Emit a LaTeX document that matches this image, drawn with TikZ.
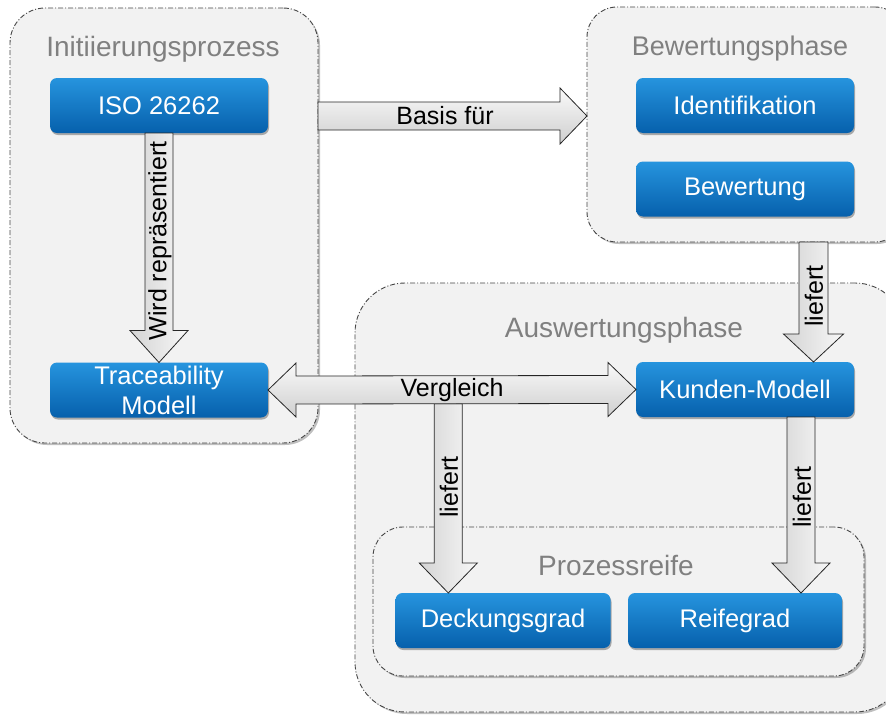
\documentclass[tikz,border=0pt]{standalone}
\usepackage{fontspec}
\setmainfont{Liberation Sans}
\usetikzlibrary{calc,shadows}
\definecolor{bluetop}{RGB}{38,148,222}
\definecolor{bluebot}{RGB}{6,96,172}
\definecolor{contfill}{RGB}{242,242,242}
\definecolor{contline}{RGB}{70,70,70}
\definecolor{titlegray}{RGB}{128,128,128}
\tikzset{
  container/.style={draw=contline, line width=0.9pt, fill=contfill,
    dash pattern=on 5pt off 2pt on 1pt off 2pt, outer sep=0pt, inner sep=0pt,
    drop shadow={shadow xshift=2pt, shadow yshift=-2pt, opacity=0.25, fill=black}},
  title/.style={text=titlegray, font=\fontsize{28}{30}\selectfont, anchor=base, inner sep=0pt},
  bluebox/.style={rounded corners=7pt, top color=bluetop, bottom color=bluebot, draw=none,
    text=white, font=\fontsize{25.5}{30}\selectfont, align=center, outer sep=0pt,
    minimum width=218pt, minimum height=55pt, inner sep=0pt,
    drop shadow={shadow xshift=1pt, shadow yshift=-2pt, opacity=0.3, fill=black}},
  fatarrow/.style={draw=black!85, line width=0.8pt, line join=miter},
  harrow/.style={fatarrow, top color=gray!4, bottom color=gray!38},
  varrow/.style={fatarrow, left color=gray!34, right color=gray!6},
  alabel/.style={font=\fontsize{25}{28}\selectfont, text=black, inner sep=0pt},
}
\begin{document}
\begin{tikzpicture}[x=1pt, y=-1pt]
\useasboundingbox (0,0) rectangle (886,715);
\fill[white] (0,0) rectangle (886,715);
\clip (0,0) rectangle (886,715);

% containers
\node[container, rounded corners=35pt, minimum width=308pt, minimum height=435pt] (init) at (164,225.5) {};
\node[container, rounded corners=30pt, minimum width=318pt, minimum height=235pt] (bew) at (746,124.5) {};
\node[container, rounded corners=50pt, minimum width=550pt, minimum height=429pt] (ausw) at (630,497.5) {};
\node[container, rounded corners=30pt, minimum width=491pt, minimum height=149pt] (proz) at (618.5,601.5) {};

% titles
\node[title] (tinit) at (163,56) {Initiierungsprozess};
\node[title, font=\fontsize{27}{30}\selectfont] (tbew) at (740,55) {Bewertungsphase};
\node[title] (tausw) at (624,337) {Auswertungsphase};
\node[title] (tproz) at (616,575) {Prozessreife};

% blue boxes
\node[bluebox] (iso) at (159,105.5) {ISO 26262};
\node[bluebox] (trace) at (159,390) {Traceability\\Modell};
\node[bluebox] (ident) at (745,105.5) {Identifikation};
\node[bluebox] (bewert) at (745,189) {Bewertung};
\node[bluebox] (kunden) at (745,389.5) {Kunden-Modell};
\node[bluebox, minimum width=215pt] (deck) at (503,620.5) {Deckungsgrad};
\node[bluebox, minimum width=214pt] (reife) at (735,620.5) {Reifegrad};

% Basis fuer
\coordinate (bs) at (init.east |- 0,116);
\coordinate (be) at (bew.west |- 0,116);
\draw[harrow] ($(bs)+(0,-14)$) -- ($(be)+(-27,-14)$) -- ($(be)+(-27,-28)$) -- (be)
  -- ($(be)+(-27,28)$) -- ($(be)+(-27,14)$) -- ($(bs)+(0,14)$) -- cycle;
\node[alabel] (lbasis) at (445,116) {Basis für};

% Wird repraesentiert
\draw[varrow] ($(iso.south)+(-14,0)$) -- ($(trace.north)+(-14,-32)$) -- ($(trace.north)+(-29,-32)$)
  -- (trace.north) -- ($(trace.north)+(29,-32)$) -- ($(trace.north)+(14,-32)$)
  -- ($(iso.south)+(14,0)$) -- cycle;
\node[alabel, rotate=90] (lwird) at (160,241) {Wird repräsentiert};

% liefert: Bewertung -> Kunden-Modell
\coordinate (kt) at ($(kunden.north east)+(-40.5,0)$);
\coordinate (ks) at (bew.south -| kt);
\draw[varrow] ($(ks)+(-14.5,0)$) -- ($(kt)+(-14.5,-28)$) -- ($(kt)+(-30,-28)$) -- (kt)
  -- ($(kt)+(30,-28)$) -- ($(kt)+(14.5,-28)$) -- ($(ks)+(14.5,0)$) -- cycle;
\node[alabel, rotate=90] (ll1) at (814,296) {liefert};

% liefert: Vergleich -> Deckungsgrad
\coordinate (vs) at ($(trace.east)!0.49!(kunden.west)+(0,14)$);
\coordinate (vt) at (deck.north -| vs);
\draw[varrow] ($(vs)+(-14,0)$) -- ($(vt)+(-14,-30)$) -- ($(vt)+(-29,-30)$) -- (vt)
  -- ($(vt)+(29,-30)$) -- ($(vt)+(14,-30)$) -- ($(vs)+(14,0)$) -- cycle;
\node[alabel, rotate=90] (ll2) at (449,487) {liefert};

% liefert: Kunden-Modell -> Reifegrad
\coordinate (rs) at ($(kunden.south east)+(-53,0)$);
\coordinate (rt) at (reife.north -| rs);
\draw[varrow] ($(rs)+(-14,0)$) -- ($(rt)+(-14,-30)$) -- ($(rt)+(-29,-30)$) -- (rt)
  -- ($(rt)+(29,-30)$) -- ($(rt)+(14,-30)$) -- ($(rs)+(14,0)$) -- cycle;
\node[alabel, rotate=90] (ll3) at (802,497) {liefert};

% Vergleich (double arrow)
\draw[harrow] (trace.east) -- ($(trace.east)+(28,-27)$) -- ($(trace.east)+(28,-14)$)
  -- ($(kunden.west)+(-28,-14)$) -- ($(kunden.west)+(-28,-27)$) -- (kunden.west)
  -- ($(kunden.west)+(-28,27)$) -- ($(kunden.west)+(-28,14)$)
  -- ($(trace.east)+(28,14)$) -- ($(trace.east)+(28,27)$) -- cycle;
\node[alabel] (lverg) at (452,390) {Vergleich};
\end{tikzpicture}
\end{document}
